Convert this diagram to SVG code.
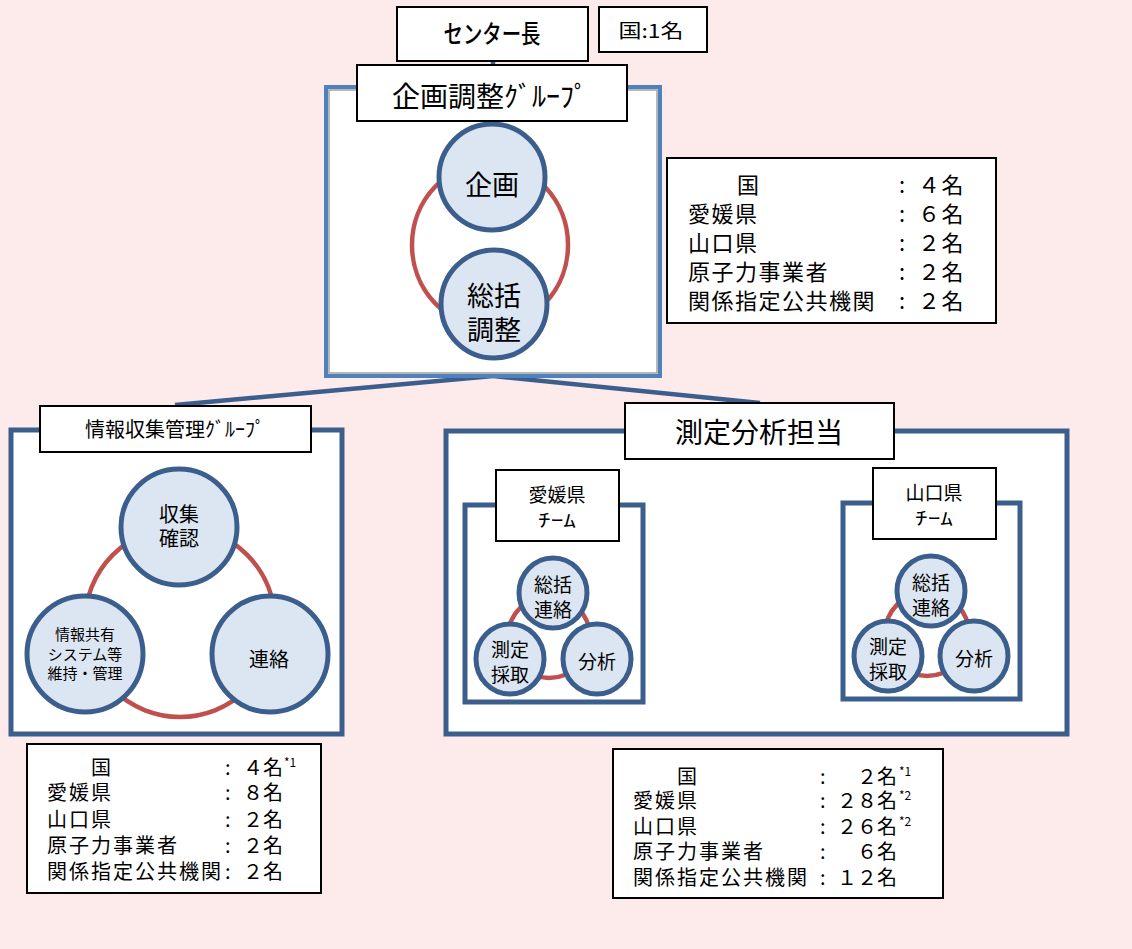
<svg xmlns="http://www.w3.org/2000/svg" width="1132" height="949" viewBox="0 0 1132 949">
<style>
text{font-family:"Noto Sans CJK JP","Noto Sans",sans-serif;fill:#000}
.lbl{fill:#fff;stroke:#000;stroke-width:2}
.sec{fill:#fff;stroke:#3B5E8C;stroke-width:5}
.node{fill:#DCE6F2;stroke:#3B5E8C;stroke-width:5}
.ring{fill:none;stroke:#C0504D;stroke-width:4.5}
.c{text-anchor:middle}
.sup{font-size:12px}
</style>
<rect x="0" y="0" width="1132" height="949" fill="#FDEAEB"/>

<g id="connectors" stroke="#3B5E8C" stroke-width="4.5" fill="none">
<line x1="493" y1="61" x2="493" y2="67"/>
<line x1="493" y1="376" x2="175" y2="405"/>
<line x1="493" y1="376" x2="760" y2="403"/>
</g>

<g id="center-head">
<rect class="lbl" x="397" y="7" width="191" height="54"/>
<text class="c" x="492" y="43" font-size="25" font-weight="500" textLength="97" lengthAdjust="spacingAndGlyphs">センター長</text>
</g>
<g id="center-head-count">
<rect class="lbl" x="599" y="7" width="108" height="45"/>
<text class="c" x="651" y="38" font-size="19" textLength="65" lengthAdjust="spacingAndGlyphs">国:1名</text>
</g>

<g id="planning-group">
<rect x="326" y="87" width="334" height="289" fill="#fff" stroke="#4F81BD" stroke-width="4"/>
<rect x="329" y="90" width="328" height="283" fill="none" stroke="#A0A0A0" stroke-width="1.5"/>
<ellipse class="ring" cx="490" cy="245" rx="78" ry="82"/>
<ellipse class="node" cx="492" cy="177" rx="53" ry="53"/>
<ellipse class="node" cx="494" cy="304" rx="53" ry="54"/>
<text class="c" x="492" y="195" font-size="27">企画</text>
<text class="c" x="494" y="306" font-size="27">総括</text>
<text class="c" x="494" y="340" font-size="27">調整</text>
<rect class="lbl" x="357" y="65" width="270" height="56"/>
<text class="c" x="490" y="107" font-size="28">企画調整ｸﾞﾙｰﾌﾟ</text>
</g>

<g id="planning-count">
<rect class="lbl" x="667" y="158" width="329" height="165"/>
<g font-size="22" letter-spacing="1.5">
<text x="737" y="193">国</text>
<text x="688" y="222">愛媛県</text>
<text x="688" y="251">山口県</text>
<text x="688" y="280">原子力事業者</text>
<text x="688" y="309">関係指定公共機関</text>
<text x="899" y="193">:</text><text x="918" y="193">４名</text>
<text x="899" y="222">:</text><text x="918" y="222">６名</text>
<text x="899" y="251">:</text><text x="918" y="251">２名</text>
<text x="899" y="280">:</text><text x="918" y="280">２名</text>
<text x="899" y="309">:</text><text x="918" y="309">２名</text>
</g>
</g>

<g id="info-group">
<rect class="sec" x="11" y="430" width="331" height="304"/>
<circle class="ring" cx="180" cy="622" r="95"/>
<circle class="node" cx="179" cy="527" r="58"/>
<circle class="node" cx="85" cy="654" r="58"/>
<circle class="node" cx="270" cy="654" r="58"/>
<text class="c" x="179" y="522" font-size="20">収集</text>
<text class="c" x="179" y="546" font-size="20">確認</text>
<text class="c" x="269" y="667" font-size="20">連絡</text>
<text class="c" x="85" y="640" font-size="15">情報共有</text>
<text class="c" x="85" y="660" font-size="15">システム等</text>
<text class="c" x="85" y="679" font-size="15">維持・管理</text>
<rect class="lbl" x="40" y="406" width="271" height="46"/>
<text class="c" x="175" y="437" font-size="20">情報収集管理ｸﾞﾙｰﾌﾟ</text>
</g>

<g id="info-count">
<rect class="lbl" x="27" y="744" width="294" height="149"/>
<g font-size="20" letter-spacing="2">
<text x="91" y="775">国</text>
<text x="47" y="800">愛媛県</text>
<text x="47" y="827">山口県</text>
<text x="47" y="853">原子力事業者</text>
<text x="47" y="879">関係指定公共機関</text>
<text x="225" y="775">:</text>
<text x="225" y="800">:</text>
<text x="225" y="827">:</text>
<text x="225" y="853">:</text>
<text x="225" y="879">:</text>
</g>
<g font-size="20">
<text x="243" y="775">４名</text>
<text x="243" y="800">８名</text>
<text x="243" y="827">２名</text>
<text x="243" y="853">２名</text>
<text x="243" y="879">２名</text>
</g>
<text class="sup" x="284" y="767">*1</text>
</g>

<g id="measure-group">
<rect class="sec" x="446" y="431" width="621" height="303"/>
<rect class="lbl" x="625" y="403" width="269" height="56"/>
<text class="c" x="759" y="443" font-size="28">測定分析担当</text>
</g>

<g id="ehime-team">
<rect class="sec" x="465" y="505" width="178" height="197" stroke-width="4.5"/>
<circle class="ring" cx="549" cy="637" r="41"/>
<ellipse class="node" cx="553" cy="593" rx="34" ry="35" stroke-width="4.5"/>
<ellipse class="node" cx="510" cy="659" rx="34" ry="35" stroke-width="4.5"/>
<ellipse class="node" cx="597" cy="659" rx="34" ry="35" stroke-width="4.5"/>
<text class="c" x="553" y="592" font-size="19">総括</text>
<text class="c" x="553" y="617" font-size="19">連絡</text>
<text class="c" x="510" y="657" font-size="19">測定</text>
<text class="c" x="510" y="682" font-size="19">採取</text>
<text class="c" x="597" y="669" font-size="19">分析</text>
<rect class="lbl" x="496" y="470" width="123" height="71"/>
<text class="c" x="557" y="502" font-size="19">愛媛県</text>
<text class="c" x="557" y="527" font-size="18" textLength="38" lengthAdjust="spacingAndGlyphs">ﾁｰﾑ</text>
</g>

<g id="yamaguchi-team">
<rect class="sec" x="843" y="503" width="177" height="196" stroke-width="4.5"/>
<circle class="ring" cx="927" cy="634" r="42"/>
<ellipse class="node" cx="931" cy="591" rx="34" ry="35" stroke-width="4.5"/>
<ellipse class="node" cx="888" cy="656" rx="34" ry="35" stroke-width="4.5"/>
<ellipse class="node" cx="974" cy="656" rx="34" ry="35" stroke-width="4.5"/>
<text class="c" x="931" y="590" font-size="19">総括</text>
<text class="c" x="931" y="615" font-size="19">連絡</text>
<text class="c" x="888" y="654" font-size="19">測定</text>
<text class="c" x="888" y="679" font-size="19">採取</text>
<text class="c" x="974" y="666" font-size="19">分析</text>
<rect class="lbl" x="873" y="468" width="123" height="71"/>
<text class="c" x="934" y="500" font-size="19">山口県</text>
<text class="c" x="934" y="525" font-size="18" textLength="38" lengthAdjust="spacingAndGlyphs">ﾁｰﾑ</text>
</g>

<g id="measure-count">
<rect class="lbl" x="613" y="749" width="330" height="149"/>
<g font-size="20" letter-spacing="2">
<text x="677" y="784">国</text>
<text x="633" y="808">愛媛県</text>
<text x="633" y="834">山口県</text>
<text x="633" y="859">原子力事業者</text>
<text x="633" y="885">関係指定公共機関</text>
<text x="820" y="784">:</text>
<text x="820" y="808">:</text>
<text x="820" y="834">:</text>
<text x="820" y="859">:</text>
<text x="820" y="885">:</text>
</g>
<g font-size="20" text-anchor="end">
<text x="897" y="784">２名</text>
<text x="897" y="808">２８名</text>
<text x="897" y="834">２６名</text>
<text x="897" y="859">６名</text>
<text x="897" y="885">１２名</text>
</g>
<text class="sup" x="899" y="776">*1</text>
<text class="sup" x="899" y="800">*2</text>
<text class="sup" x="899" y="826">*2</text>
</g>
</svg>
